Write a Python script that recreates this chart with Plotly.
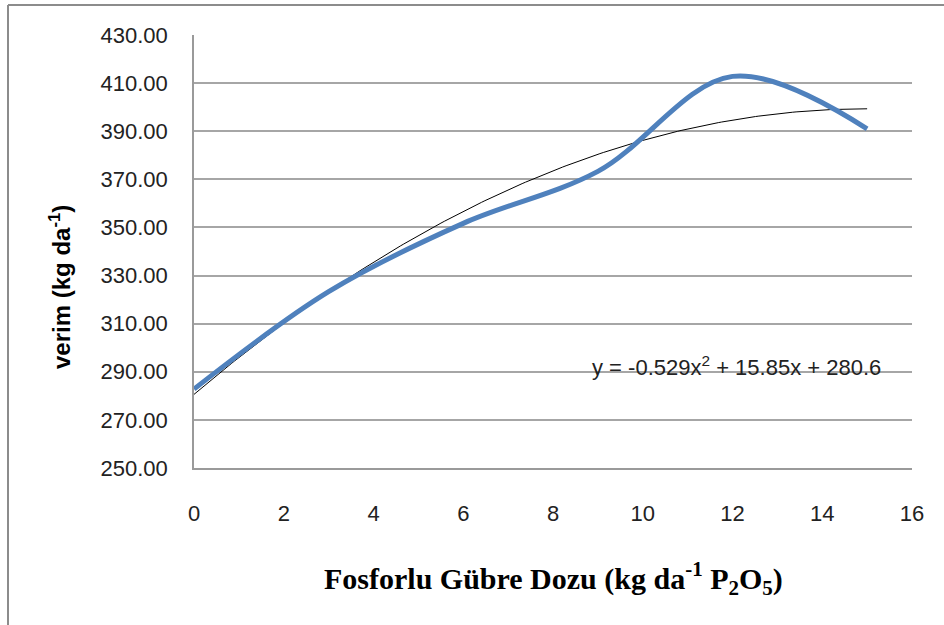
import numpy as np
import plotly.graph_objects as go

# Data
doses = [0, 3, 6, 9, 12, 15]
yields = [282.8, 323.3, 351.7, 373.3, 412.8, 391.0]
trend_coef = [-0.529, 15.85, 280.6]  # quadratic trendline as shown on chart
y_ticks = [250, 270, 290, 310, 330, 350, 370, 390, 410, 430]
x_ticks = [0, 2, 4, 6, 8, 10, 12, 14, 16]

W, H = 944, 625
L, R, T, B = 194, 32, 35, 157
pw, ph = W - L - R, H - T - B

def px_x(p):
    return (p - L) / pw

def px_y(p):
    return (H - B - p) / ph

xt = np.linspace(min(doses), max(doses), 200)
yt = np.polyval(trend_coef, xt)

fig = go.Figure()
fig.add_trace(go.Scatter(x=xt, y=yt, mode="lines",
                         line=dict(color="#000000", width=1), hoverinfo="skip"))
fig.add_trace(go.Scatter(x=doses, y=yields, mode="lines",
                         line=dict(color="#4F81BD", width=5, shape="spline", smoothing=1)))

font_sans = "Liberation Sans, Arial, sans-serif"

fig.update_layout(
    width=W, height=H,
    margin=dict(l=L, r=R, t=T, b=B),
    paper_bgcolor="white", plot_bgcolor="white",
    showlegend=False,
    xaxis=dict(range=[0, 16], tickvals=x_ticks, showgrid=False, zeroline=False,
               showline=True, linecolor="#9A9A9A", linewidth=1.5,
               ticks="", ticklabelstandoff=25,
               tickfont=dict(family=font_sans, size=22, color="#222222")),
    yaxis=dict(range=[250, 430], tickvals=y_ticks, tickformat=".2f",
               showgrid=True, gridcolor="#A6A6A6", gridwidth=1.5, zeroline=False,
               showline=True, linecolor="#9A9A9A", linewidth=1.5,
               ticks="", ticklabelstandoff=20,
               tickfont=dict(family=font_sans, size=22, color="#222222")),
    annotations=[
        dict(text="<b>Fosforlu Gübre Dozu (kg da<sup>-1</sup> P<sub>2</sub>O<sub>5</sub>)</b>",
             xref="paper", yref="paper", x=px_x(553), y=px_y(578),
             showarrow=False, xanchor="center", yanchor="middle",
             font=dict(family="Liberation Serif, Times New Roman, serif", size=30, color="#000000")),
        dict(text="<b>verim (kg da<sup>-1</sup>)</b>",
             xref="paper", yref="paper", x=px_x(60), y=px_y(287),
             showarrow=False, textangle=-90, xanchor="center", yanchor="middle",
             font=dict(family="Liberation Sans, Arial, sans-serif", size=24, color="#000000")),
        dict(text="y = -0.529x<sup>2</sup> + 15.85x + 280.6",
             xref="paper", yref="paper", x=px_x(736), y=px_y(366),
             showarrow=False, xanchor="center", yanchor="middle",
             font=dict(family=font_sans, size=22, color="#222222")),
    ],
    shapes=[
        dict(type="line", xref="paper", yref="paper",
             x0=px_x(8), x1=px_x(8), y0=px_y(5), y1=px_y(625),
             line=dict(color="#8C8C8C", width=2)),
        dict(type="line", xref="paper", yref="paper",
             x0=px_x(8), x1=px_x(944), y0=px_y(5), y1=px_y(5),
             line=dict(color="#8C8C8C", width=2)),
    ],
)

fig.write_html("out.html")
